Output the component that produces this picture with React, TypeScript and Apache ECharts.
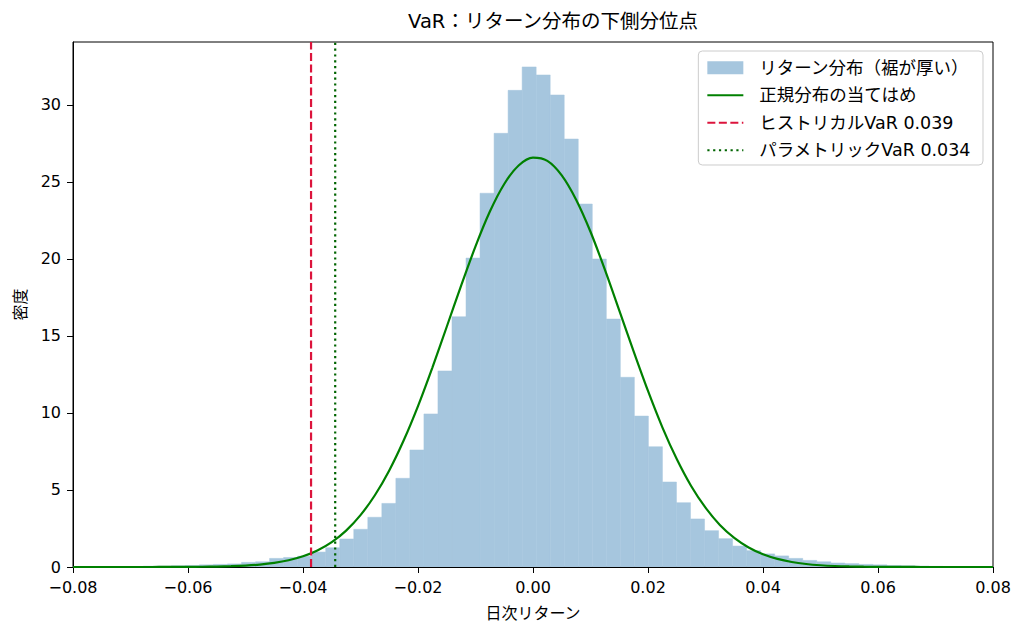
import { useEffect, useRef } from "react";
import * as echarts from "echarts";

// histogram bins: left edge of first bin and common width
const binStart = -0.07997;
const binWidth = 0.00244;
const density = [
    0.01, 0.01, 0.02, 0.02, 0.03, 0.05, 0.06, 0.08, 0.1, 0.14,
    0.17, 0.2, 0.3, 0.34, 0.56, 0.62, 0.7, 0.97, 1.25, 1.82,
    2.45, 3.23, 4.13, 5.76, 7.6, 9.94, 12.73, 16.25, 20.06, 24.27,
    28.16, 30.95, 32.47, 31.95, 30.65, 27.79, 23.57, 20.0, 16.1, 12.32,
    9.8, 7.81, 5.52, 4.18, 3.12, 2.36, 1.84, 1.36, 1.06, 0.85,
    0.72, 0.56, 0.43, 0.34, 0.26, 0.22, 0.17, 0.14, 0.1, 0.08,
    0.06, 0.04, 0.03, 0.02, 0.01, 0,
];

// fitted normal curve
const fitX = [
    -0.08, -0.0775, -0.075, -0.0725, -0.07, -0.0675, -0.065, -0.0625,
    -0.06, -0.0575, -0.055, -0.0525, -0.05, -0.0475, -0.045, -0.0425,
    -0.04, -0.0375, -0.035, -0.0325, -0.03, -0.0275, -0.025, -0.0225,
    -0.02, -0.0175, -0.015, -0.0125, -0.01, -0.0075, -0.005, -0.0025,
    0,
    0.0025, 0.005, 0.0075, 0.01, 0.0125, 0.015, 0.0175, 0.02,
    0.0225, 0.025, 0.0275, 0.03, 0.0325, 0.035, 0.0375, 0.04,
    0.0425, 0.045, 0.0475, 0.05, 0.0525, 0.055, 0.0575, 0.06,
    0.0625, 0.065, 0.0675, 0.07, 0.0725, 0.075, 0.0775, 0.08,
];
const fitY = [
    0, 0.00004, 0.0001, 0.0002, 0.0004, 0.0009, 0.002, 0.0039,
    0.008, 0.0151, 0.028, 0.0518, 0.092, 0.159, 0.267, 0.437,
    0.695, 1.074, 1.615, 2.365, 3.37, 4.66, 6.27, 8.21,
    10.45, 12.95, 15.6, 18.27, 20.82, 23.08, 24.87, 26.07,
    26.58,
    26.37, 25.43, 23.85, 21.77, 19.31, 16.67, 14.0, 11.43,
    9.07, 7.01, 5.26, 3.85, 2.73, 1.89, 1.27, 0.83,
    0.528, 0.326, 0.196, 0.115, 0.065, 0.036, 0.0195, 0.01,
    0.0052, 0.0026, 0.0012, 0.0006, 0.0003, 0.0001, 0.00005, 0,
];

const historicalVaR = 0.0386;
const parametricVaR = 0.0344;

const xTicks = [-0.08, -0.06, -0.04, -0.02, 0, 0.02, 0.04, 0.06, 0.08];
const yTicks = [0, 5, 10, 15, 20, 25, 30];
const yMax = 34.09;

const names = [
    "リターン分布（裾が厚い）",
    "正規分布の当てはめ",
    `ヒストリカルVaR ${historicalVaR.toFixed(3)}`,
    `パラメトリックVaR ${parametricVaR.toFixed(3)}`,
];

const FONT = "'DejaVu Sans', 'Noto Sans CJK JP', sans-serif";
const BAR = "#a6c6de";

const fmtX = (v: number) => {
    const s = Math.abs(v).toFixed(2);
    return v < -1e-9 ? "\u2212" + s : s;
};

const App = () => {
    const chartRef = useRef<HTMLDivElement>(null);

    useEffect(() => {
        document.body.style.margin = "0";
        if (!chartRef.current) return;

        const chart = echarts.init(chartRef.current, undefined, { renderer: "svg" });

        const bins = density.map((d, i) => [
            binStart + i * binWidth,
            binStart + (i + 1) * binWidth,
            d,
        ]);

        // line legend entries: hide the marker ECharts puts on the line icon
        const noMarker = { opacity: 0 };

        chart.setOption({
            animation: false,
            textStyle: { fontFamily: FONT },
            title: {
                text: "VaR：リターン分布の下側分位点",
                left: 553,
                top: 12,
                padding: 0,
                textAlign: "center",
                textStyle: { fontFamily: FONT, fontSize: 19.5, fontWeight: "normal", color: "#000" },
            },
            legend: {
                orient: "vertical",
                right: 41,
                top: 51,
                itemWidth: 36,
                itemHeight: 13,
                itemGap: 10,
                selectedMode: false,
                padding: [8, 12, 6, 8],
                backgroundColor: "rgba(255,255,255,0.8)",
                borderColor: "#cccccc",
                borderWidth: 1,
                borderRadius: 4,
                textStyle: { fontFamily: FONT, fontSize: 17.5, color: "#000", padding: [0, 0, 0, 11] },
                data: [
                    { name: names[0], icon: "rect" },
                    { name: names[1], itemStyle: noMarker },
                    { name: names[2], itemStyle: noMarker },
                    { name: names[3], itemStyle: noMarker },
                ],
            },
            grid: {
                left: 73,
                right: 31,
                top: 42,
                bottom: 69,
                show: true,
                borderColor: "#000",
                borderWidth: 1,
                backgroundColor: "transparent",
            },
            xAxis: {
                type: "value",
                min: -0.08,
                max: 0.08,
                interval: 0.02,
                name: "日次リターン",
                nameLocation: "middle",
                nameGap: 38,
                nameTextStyle: { fontFamily: FONT, fontSize: 16, color: "#000" },
                axisLine: { show: true, onZero: false, lineStyle: { color: "#000", width: 1 } },
                axisTick: { show: true, length: 6, lineStyle: { color: "#000" }, customValues: xTicks },
                axisLabel: {
                    margin: 12,
                    fontFamily: FONT,
                    fontSize: 16,
                    color: "#000",
                    customValues: xTicks,
                    formatter: (v: number) => fmtX(v),
                },
                splitLine: { show: false },
            },
            yAxis: {
                type: "value",
                min: 0,
                max: yMax,
                name: "密度",
                nameLocation: "middle",
                nameGap: 45,
                nameRotate: 90,
                nameTextStyle: { fontFamily: FONT, fontSize: 16, color: "#000" },
                axisLine: { show: true, onZero: false, lineStyle: { color: "#000", width: 1 } },
                axisTick: { show: true, length: 6, lineStyle: { color: "#000" }, customValues: yTicks },
                axisLabel: {
                    margin: 12,
                    fontFamily: FONT,
                    fontSize: 16,
                    color: "#000",
                    customValues: yTicks,
                    formatter: (v: number) => String(v),
                },
                splitLine: { show: false },
            },
            series: [
                {
                    name: names[0],
                    type: "custom",
                    clip: true,
                    itemStyle: { color: BAR },
                    encode: { x: [0, 1], y: 2 },
                    data: bins,
                    z: 1,
                    renderItem: (_params: any, api: any) => {
                        const p0 = api.coord([api.value(0), api.value(2)]);
                        const p1 = api.coord([api.value(1), 0]);
                        return {
                            type: "rect",
                            shape: { x: p0[0], y: p0[1], width: p1[0] - p0[0], height: p1[1] - p0[1] },
                            style: { fill: BAR, stroke: BAR, lineWidth: 0.5 },
                        };
                    },
                },
                {
                    name: names[1],
                    type: "line",
                    smooth: 0.3,
                    symbol: "none",
                    z: 3,
                    data: fitX.map((x, i) => [x, fitY[i]]),
                    itemStyle: { color: "#008000" },
                    lineStyle: { color: "#008000", width: 2.2 },
                },
                {
                    name: names[2],
                    type: "line",
                    symbol: "none",
                    z: 4,
                    data: [[-historicalVaR, 0], [-historicalVaR, yMax]],
                    itemStyle: { color: "#dc143c" },
                    lineStyle: { color: "#dc143c", width: 2.2, type: [8, 3.5] },
                },
                {
                    name: names[3],
                    type: "line",
                    symbol: "none",
                    z: 4,
                    data: [[-parametricVaR, 0], [-parametricVaR, yMax]],
                    itemStyle: { color: "#006400" },
                    lineStyle: { color: "#006400", width: 2.2, type: [2.2, 3.6] },
                },
            ],
        });

        return () => {
            chart.dispose();
        };
    }, []);

    return <div ref={chartRef} style={{ width: "1024px", height: "636px" }} />;
};

export default App;
